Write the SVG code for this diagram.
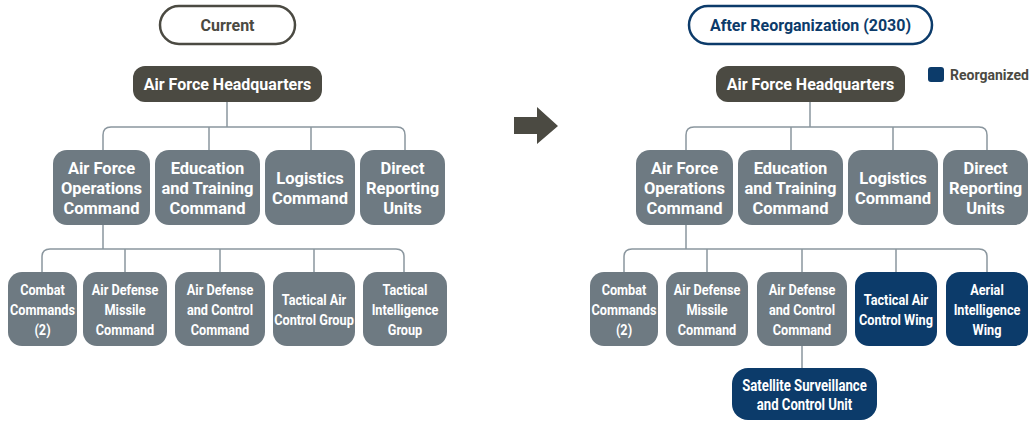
<svg xmlns="http://www.w3.org/2000/svg" width="1032" height="422" viewBox="0 0 1032 422">
<style>
.bg{fill:#ffffff}
.pill{fill:#ffffff;stroke-width:2.5}
.cur{stroke:#4b4a42}
.aft{stroke:#0c3b6a}
.hq{fill:#4b4a42}
.g{fill:#6e7a82}
.n{fill:#0c3b6a}
.t{font-family:Roboto,"Liberation Sans",sans-serif;font-weight:700;fill:#ffffff;text-anchor:middle}
.t2{font-size:16.5px}
.t3{font-size:15.5px}
.t4{font-size:16px}
.ttl{font-family:Roboto,"Liberation Sans",sans-serif;font-weight:700;font-size:16px;text-anchor:middle}
.conn{fill:none;stroke:#8a969e;stroke-width:1.5}
</style>
<rect class="bg" x="0" y="0" width="1032" height="422"/>

<g id="connectors" class="conn">
  <path d="M227,102V127M103,150V135Q103,127 111,127H397Q405,127 405,135V150M209,127V150M311,127V150"/>
  <path d="M103,225V249M42,272V257Q42,249 50,249H396Q404,249 404,257V272M125,249V272M220,249V272M314,249V272"/>
  <path d="M810,102V127M686,150V135Q686,127 694,127H979Q987,127 987,135V150M791,127V150M893,127V150"/>
  <path d="M686,225V249M624,272V257Q624,249 632,249H979Q987,249 987,257V272M707,249V272M802,249V272M896,249V272"/>
  <path d="M802,346V368"/>
</g>

<!-- Left: Current -->
<g id="title-current">
  <rect class="pill cur" x="160" y="6" width="135" height="38" rx="19"/>
  <text class="ttl" x="227.5" y="30.5" fill="#4b4a42">Current</text>
</g>
<g id="l-hq">
  <rect class="hq" x="133" y="66" width="189" height="36" rx="12"/>
  <text class="t t4" x="227.5" y="90">Air Force Headquarters</text>
</g>
<g id="l-afoc">
  <rect class="g" x="53" y="150" width="97" height="75" rx="14"/>
  <text class="t t2"><tspan x="101.5" y="174">Air Force</tspan><tspan x="101.5" y="194">Operations</tspan><tspan x="101.5" y="214">Command</tspan></text>
</g>
<g id="l-etc">
  <rect class="g" x="155" y="150" width="105" height="75" rx="14"/>
  <text class="t t2"><tspan x="207.5" y="174">Education</tspan><tspan x="207.5" y="194">and Training</tspan><tspan x="207.5" y="214">Command</tspan></text>
</g>
<g id="l-log">
  <rect class="g" x="265" y="150" width="90" height="75" rx="14"/>
  <text class="t t2"><tspan x="310" y="184">Logistics</tspan><tspan x="310" y="204">Command</tspan></text>
</g>
<g id="l-dru">
  <rect class="g" x="360" y="150" width="85" height="75" rx="14"/>
  <text class="t t2"><tspan x="402.5" y="174">Direct</tspan><tspan x="402.5" y="194">Reporting</tspan><tspan x="402.5" y="214">Units</tspan></text>
</g>
<g id="l-cc">
  <rect class="g" x="8" y="272" width="69" height="74" rx="14"/>
  <text class="t t3" transform="translate(42.5 0) scale(0.82 1)"><tspan x="0" y="295">Combat</tspan><tspan x="0" y="315">Commands</tspan><tspan x="0" y="335">(2)</tspan></text>
</g>
<g id="l-admc">
  <rect class="g" x="83" y="272" width="84" height="74" rx="14"/>
  <text class="t t3" transform="translate(125 0) scale(0.82 1)"><tspan x="0" y="295">Air Defense</tspan><tspan x="0" y="315">Missile</tspan><tspan x="0" y="335">Command</tspan></text>
</g>
<g id="l-adcc">
  <rect class="g" x="175" y="272" width="90" height="74" rx="14"/>
  <text class="t t3" transform="translate(220 0) scale(0.82 1)"><tspan x="0" y="295">Air Defense</tspan><tspan x="0" y="315">and Control</tspan><tspan x="0" y="335">Command</tspan></text>
</g>
<g id="l-tacg">
  <rect class="g" x="273" y="272" width="82" height="74" rx="14"/>
  <text class="t t3" transform="translate(314 0) scale(0.82 1)"><tspan x="0" y="305">Tactical Air</tspan><tspan x="0" y="325">Control Group</tspan></text>
</g>
<g id="l-tig">
  <rect class="g" x="363" y="272" width="84" height="74" rx="14"/>
  <text class="t t3" transform="translate(405 0) scale(0.82 1)"><tspan x="0" y="295">Tactical</tspan><tspan x="0" y="315">Intelligence</tspan><tspan x="0" y="335">Group</tspan></text>
</g>

<!-- Arrow -->
<g id="arrow">
  <polygon points="514,117 537,117 537,107 558,126 537,144 537,134 514,134" fill="#4b4a42"/>
</g>

<!-- Right: After -->
<g id="title-after">
  <rect class="pill aft" x="689" y="6" width="243" height="38" rx="19"/>
  <text class="ttl" x="810.5" y="30.5" fill="#0c3b6a">After Reorganization (2030)</text>
</g>
<g id="legend">
  <rect x="928" y="67" width="16" height="15" rx="3" fill="#0c3b6a"/>
  <text x="950" y="80" font-family="Roboto,'Liberation Sans',sans-serif" font-weight="700" font-size="14" fill="#4b4a42">Reorganized</text>
</g>
<g id="r-hq">
  <rect class="hq" x="716" y="66" width="189" height="36" rx="12"/>
  <text class="t t4" x="810.5" y="90">Air Force Headquarters</text>
</g>
<g id="r-afoc">
  <rect class="g" x="636" y="150" width="97" height="75" rx="14"/>
  <text class="t t2"><tspan x="684.5" y="174">Air Force</tspan><tspan x="684.5" y="194">Operations</tspan><tspan x="684.5" y="214">Command</tspan></text>
</g>
<g id="r-etc">
  <rect class="g" x="738" y="150" width="105" height="75" rx="14"/>
  <text class="t t2"><tspan x="790.5" y="174">Education</tspan><tspan x="790.5" y="194">and Training</tspan><tspan x="790.5" y="214">Command</tspan></text>
</g>
<g id="r-log">
  <rect class="g" x="848" y="150" width="90" height="75" rx="14"/>
  <text class="t t2"><tspan x="893" y="184">Logistics</tspan><tspan x="893" y="204">Command</tspan></text>
</g>
<g id="r-dru">
  <rect class="g" x="943" y="150" width="85" height="75" rx="14"/>
  <text class="t t2"><tspan x="985.5" y="174">Direct</tspan><tspan x="985.5" y="194">Reporting</tspan><tspan x="985.5" y="214">Units</tspan></text>
</g>
<g id="r-cc">
  <rect class="g" x="590" y="272" width="68" height="74" rx="14"/>
  <text class="t t3" transform="translate(624 0) scale(0.82 1)"><tspan x="0" y="295">Combat</tspan><tspan x="0" y="315">Commands</tspan><tspan x="0" y="335">(2)</tspan></text>
</g>
<g id="r-admc">
  <rect class="g" x="666" y="272" width="82" height="74" rx="14"/>
  <text class="t t3" transform="translate(707 0) scale(0.82 1)"><tspan x="0" y="295">Air Defense</tspan><tspan x="0" y="315">Missile</tspan><tspan x="0" y="335">Command</tspan></text>
</g>
<g id="r-adcc">
  <rect class="g" x="757" y="272" width="90" height="74" rx="14"/>
  <text class="t t3" transform="translate(802 0) scale(0.82 1)"><tspan x="0" y="295">Air Defense</tspan><tspan x="0" y="315">and Control</tspan><tspan x="0" y="335">Command</tspan></text>
</g>
<g id="r-tacw">
  <rect class="n" x="855" y="272" width="82" height="74" rx="14"/>
  <text class="t t3" transform="translate(896 0) scale(0.82 1)"><tspan x="0" y="305">Tactical Air</tspan><tspan x="0" y="325">Control Wing</tspan></text>
</g>
<g id="r-aiw">
  <rect class="n" x="946" y="272" width="82" height="74" rx="14"/>
  <text class="t t3" transform="translate(987 0) scale(0.82 1)"><tspan x="0" y="295">Aerial</tspan><tspan x="0" y="315">Intelligence</tspan><tspan x="0" y="335">Wing</tspan></text>
</g>
<g id="r-sscu">
  <rect class="n" x="732" y="368" width="145" height="52" rx="16"/>
  <text class="t t4" transform="translate(804.5 0) scale(0.82 1)"><tspan x="0" y="391.5">Satellite Surveillance</tspan><tspan x="0" y="410">and Control Unit</tspan></text>
</g>
</svg>
